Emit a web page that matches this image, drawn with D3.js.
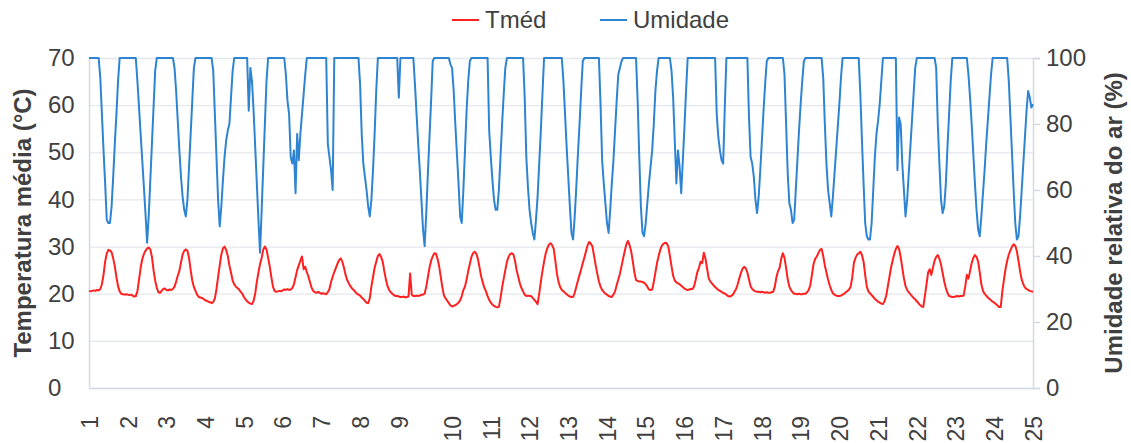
<!DOCTYPE html>
<html>
<head>
<meta charset="utf-8">
<script src="https://cdn.jsdelivr.net/npm/d3@7"></script>
<style>
  body { margin: 0; background: #ffffff; }
  svg { display: block; }
  text { font-family: "Liberation Sans", Arial, Helvetica, sans-serif; fill: #404040; }
</style>
</head>
<body>
<svg id="chart" width="1131" height="443"></svg>
<script>
// Day labels on the horizontal axis and the hourly sample where each day starts
const dayLabels = ["1","2","3","4","5","6","7","8","9","10","11","12","13","14","15","16","17","18","19","20","21","22","23","24","25"];
const dayTicks = [0,24,48,72,96,120,144,168,192,225,249,273,297,321,345,369,393,417,441,465,489,513,537,561,585];

// Axis tick values
const tempTicks = [0,10,20,30,40,50,60,70];
const humTicks = [0,20,40,60,80,100];

// Mean air temperature (°C), hourly
const tmed = [
20.6,20.5,20.6,20.7,20.6,20.8,20.7,21.0,
22.0,24.0,26.8,28.5,29.3,29.2,28.8,27.5,25.8,23.5,21.6,20.5,20.0,19.9,19.8,19.9,19.8,19.7,19.8,19.6,19.4,19.5,
20.5,23.0,25.5,27.3,28.4,29.1,29.6,29.8,29.4,27.8,25.0,22.8,21.3,20.3,20.2,20.6,21.0,21.1,20.8,20.7,20.9,20.8,21.0,
21.5,22.6,23.8,24.8,26.6,28.3,29.1,29.4,29.1,27.6,25.0,22.8,21.4,20.6,19.8,19.3,19.2,19.1,18.9,18.6,18.5,18.3,18.2,18.0,
18.2,19.0,21.0,23.5,26.0,28.3,29.6,30.0,29.3,28.0,26.0,24.5,22.8,22.0,21.5,21.2,20.9,20.4,20.0,19.3,18.8,18.4,18.1,17.9,17.8,
18.5,20.0,22.5,24.5,26.3,27.6,29.4,30.0,29.4,27.6,25.8,23.5,21.5,20.6,20.4,20.5,20.6,20.5,20.7,20.9,20.8,21.0,20.8,20.9,21.2,
22.0,23.5,25.0,26.0,27.0,27.9,25.2,25.7,24.6,23.6,22.4,21.2,20.6,20.3,20.2,20.4,20.2,20.0,20.1,20.0,19.9,
20.3,21.0,22.5,23.6,24.6,25.5,26.4,27.1,27.5,26.8,25.5,24.0,22.9,22.2,21.6,21.1,20.8,20.4,20.0,19.8,19.6,19.2,18.9,18.5,18.1,18.0,
19.0,21.5,23.5,25.5,26.8,28.0,28.4,27.8,26.8,24.8,23.0,21.6,20.8,20.3,20.0,19.7,19.5,19.5,19.4,19.3,19.3,19.4,19.2,19.3,
19.4,24.3,19.8,19.5,19.5,19.6,19.5,19.6,19.8,
19.8,20.0,21.5,23.5,25.5,27.0,27.9,28.6,28.5,27.4,25.8,23.5,21.3,19.6,19.0,18.5,18.0,17.5,17.3,17.4,17.6,17.8,18.1,18.6,19.5,20.8,21.5,
23.0,24.8,26.3,27.8,28.6,28.9,28.5,27.4,25.6,23.7,22.4,21.3,20.5,19.5,18.7,18.1,17.7,17.4,17.2,17.1,17.2,
19.0,21.3,23.2,25.0,26.8,27.8,28.4,28.6,28.3,27.0,25.0,23.6,22.2,21.2,20.5,19.8,19.5,19.6,19.5,19.5,19.1,18.7,18.3,17.8,
20.0,22.5,24.8,26.8,28.5,29.6,30.4,30.7,30.3,29.5,27.0,24.2,22.5,21.4,20.8,20.5,20.2,19.9,19.6,19.4,19.3,19.3,
20.2,21.5,22.8,24.0,25.2,26.5,27.7,29.0,30.3,31.0,30.6,30.0,28.0,26.0,24.2,22.6,21.5,20.8,20.4,20.0,19.8,19.5,19.4,19.3,
19.8,20.5,21.8,23.0,24.2,25.8,27.5,29.0,30.5,31.2,30.3,29.0,26.8,24.5,22.9,22.7,22.6,22.6,22.5,22.3,22.0,21.5,20.9,20.8,20.9,22.5,24.5,
26.5,28.0,29.3,30.2,30.6,30.8,30.7,30.0,28.0,25.8,23.8,22.8,22.4,22.2,22.0,21.7,21.4,21.1,20.9,20.8,20.9,21.0,21.0,
21.6,23.0,24.6,25.5,26.8,26.5,28.7,27.5,25.4,23.3,22.6,22.2,21.8,21.4,21.1,20.8,20.6,20.4,20.2,20.0,19.8,19.5,19.4,19.5,
19.8,20.4,21.0,22.0,23.3,24.4,25.3,25.7,25.4,24.5,23.0,21.6,21.0,20.7,20.5,20.4,20.4,20.3,20.4,20.3,20.2,20.3,20.2,20.2,20.3,20.4,
21.5,23.5,24.8,25.5,27.5,28.6,27.6,25.5,23.0,21.5,20.8,20.3,20.0,20.0,19.9,20.0,19.9,19.9,20.0,20.0,20.3,
20.8,21.8,24.0,26.3,27.4,27.9,28.6,29.3,29.5,28.0,26.0,24.5,23.0,21.8,20.8,20.1,19.8,19.6,19.5,19.5,19.6,19.8,20.0,20.3,20.6,20.9,
21.5,23.5,26.5,27.6,28.3,28.6,28.9,28.2,26.8,24.0,21.5,20.5,20.1,19.7,19.3,18.9,18.6,18.3,18.1,17.9,17.8,
18.4,19.5,21.5,23.5,25.5,27.0,28.4,29.5,30.1,29.5,27.8,25.5,23.3,21.6,20.8,20.3,19.9,19.5,19.1,18.8,18.4,18.0,17.6,17.3,17.2,
19.5,22.0,24.5,25.2,24.0,25.5,27.0,27.8,28.2,27.4,26.2,24.4,22.6,21.2,20.2,19.5,19.4,19.3,19.3,19.4,19.5,19.4,19.5,19.5,19.6,
21.5,24.0,23.2,24.8,26.5,27.6,28.2,27.8,26.8,24.5,22.0,20.6,20.0,19.6,19.2,18.9,18.6,18.3,18.1,17.8,17.5,17.2,17.2,
20.5,23.0,25.3,27.0,28.3,29.2,30.0,30.5,30.2,29.0,27.0,24.8,23.0,22.0,21.3,21.0,20.8,20.6,20.5,20.4
];

// Relative air humidity (%), hourly
const umidade = [
100,100,100,100,100,100,100,
94,83,72,62,51,50,50,55,64,74,83,93,
100,100,100,100,100,100,100,100,100,100,100,
93,85,77,69,61,53,44,52,63,74,85,96,
100,100,100,100,100,100,100,100,100,100,100,
97,90,81,72,64,58,54,52,57,67,77,87,97,
100,100,100,100,100,100,100,100,100,100,100,
96,83,70,57,49,55,63,70,75,78,80,88,96,
100,100,100,100,100,100,100,100,100,
84,97,93,84,73,62,51,41,54,67,80,93,
100,100,100,100,100,100,100,100,100,100,100,
95,87,83,70,68,72,59,77,69,77,83,89,95,
100,100,100,100,100,100,100,100,100,100,100,100,100,
74,70,66,60,
100,100,100,100,100,100,100,100,100,100,100,100,100,100,100,100,
92,77,68,64,60,55,52,57,66,77,90,
100,100,100,100,100,100,100,100,100,100,100,100,100,
88,
100,100,100,100,100,100,100,100,100,
92,83,74,66,57,48,43,53,65,76,87,99,
100,100,100,100,100,100,100,100,100,100,
98,97,90,80,71,62,52,50,60,72,84,93,99,
100,100,100,100,100,100,100,100,100,100,100,
78,70,63,57,54,54,60,70,80,89,97,
100,100,100,100,100,100,100,100,100,100,100,
88,70,61,54,50,47,45,51,58,68,78,89,
100,100,100,100,100,100,100,100,100,100,100,100,
93,83,73,64,55,47,45,52,61,71,80,90,99,
100,100,100,100,100,100,100,100,100,100,
86,69,62,56,50,47,54,62,69,78,87,95,97,99,
100,100,100,100,100,100,100,100,100,
87,70,55,47,46,50,56,62,67,72,80,90,96,
100,100,100,100,100,100,100,100,
96,88,75,62,72,67,59,69,79,90,
100,100,100,100,100,100,100,100,100,100,100,100,100,100,100,100,100,100,
83,76,72,69,68,85,
100,100,100,100,100,100,100,100,100,100,100,100,100,100,
82,70,68,64,57,53,58,66,75,84,92,99,
100,100,100,100,100,100,100,100,100,100,
95,80,65,56,54,50,51,60,69,78,86,93,99,
100,100,100,100,100,100,100,100,100,100,100,
94,80,68,60,56,52,58,65,72,79,86,94,
100,100,100,100,100,100,100,100,100,100,100,
89,75,62,50,46,45,45,50,60,70,77,81,86,93,
100,100,100,100,100,100,100,100,100,
66,82,80,68,60,52,57,65,73,81,89,97,
100,100,100,100,100,100,100,100,100,100,100,100,
97,80,68,57,53,55,62,73,83,93,
100,100,100,100,100,100,100,100,100,100,
95,88,80,71,62,54,48,46,52,59,66,74,81,88,95,
100,100,100,100,100,100,100,100,100,100,
93,82,71,60,50,45,46,52,60,68,76,84,90,88,85,86
];

const seriesNames = ["Tméd", "Umidade"];
const seriesColors = ["#ff2020", "#2e84d1"];

// Plot frame
const plot = { left: 89, right: 1033, top: 58, bottom: 388 };
const fontSize = 24;
const axisColor = "#d3dae3";
const gridColor = "#e4e7ec";

const svg = d3.select("#chart");

const x = d3.scaleLinear().domain([0, tmed.length - 1]).range([plot.left, plot.right]);
const yT = d3.scaleLinear().domain([0, 70]).range([plot.bottom, plot.top]);
const yU = d3.scaleLinear().domain([0, 100]).range([plot.bottom, plot.top]);

// Horizontal gridlines from the temperature axis
svg.append("g")
  .attr("transform", `translate(${plot.left},0)`)
  .call(d3.axisLeft(yT).tickValues(tempTicks).tickSize(-(plot.right - plot.left)).tickFormat(""))
  .call(g => g.select(".domain").remove())
  .call(g => g.selectAll("line").attr("stroke", gridColor).attr("stroke-width", 1.3));

// Left axis: line and left-aligned labels
const leftAxis = svg.append("g")
  .attr("transform", `translate(${plot.left},0)`)
  .call(d3.axisLeft(yT).tickValues(tempTicks).tickSize(0).tickPadding(0));
leftAxis.select(".domain").attr("stroke", axisColor).attr("stroke-width", 1.5);
leftAxis.selectAll(".tick text")
  .attr("x", 48 - plot.left)
  .attr("text-anchor", "start")
  .attr("fill", "#404040")
  .style("font-size", fontSize + "px")
  .style("font-family", "'Liberation Sans', Arial, sans-serif");

// Right axis: line, outward ticks and labels
const rightAxis = svg.append("g")
  .attr("transform", `translate(${plot.right},0)`)
  .call(d3.axisRight(yU).tickValues(humTicks).tickSize(7).tickPadding(6));
rightAxis.select(".domain").attr("stroke", axisColor).attr("stroke-width", 1.5);
rightAxis.selectAll(".tick line").attr("stroke", axisColor).attr("stroke-width", 1.5);
rightAxis.selectAll(".tick text")
  .attr("fill", "#404040")
  .style("font-size", fontSize + "px")
  .style("font-family", "'Liberation Sans', Arial, sans-serif");

// Bottom axis: line and rotated day labels
const bottomAxis = svg.append("g")
  .attr("transform", `translate(0,${plot.bottom})`)
  .call(d3.axisBottom(x).tickValues(dayTicks).tickSize(0).tickFormat((d, i) => dayLabels[i]));
bottomAxis.select(".domain").attr("stroke", axisColor).attr("stroke-width", 1.5);
bottomAxis.selectAll(".tick text")
  .attr("transform", "rotate(-90)")
  .attr("text-anchor", "end")
  .attr("x", -28)
  .attr("y", 0)
  .attr("dy", "0.36em")
  .attr("fill", "#404040")
  .style("font-size", "23px")
  .style("font-family", "'Liberation Sans', Arial, sans-serif");

// Series lines: temperature first, humidity drawn over it
const lineT = d3.line().x((d, i) => x(i)).y(d => yT(d));
const lineU = d3.line().x((d, i) => x(i)).y(d => yU(d));

svg.append("path")
  .datum(tmed)
  .attr("fill", "none")
  .attr("stroke", seriesColors[0])
  .attr("stroke-width", 2)
  .attr("stroke-linejoin", "round")
  .attr("d", lineT);

svg.append("path")
  .datum(umidade)
  .attr("fill", "none")
  .attr("stroke", seriesColors[1])
  .attr("stroke-width", 2)
  .attr("stroke-linejoin", "round")
  .attr("d", lineU);

// Axis titles
svg.append("text")
  .attr("transform", `translate(31,${(plot.top + plot.bottom) / 2}) rotate(-90)`)
  .attr("text-anchor", "middle")
  .attr("fill", "#262626")
  .style("font-size", fontSize + "px")
  .style("font-weight", "bold")
  .text("Temperatura média (°C)");

svg.append("text")
  .attr("transform", `translate(1122,${(plot.top + plot.bottom) / 2}) rotate(-90)`)
  .attr("text-anchor", "middle")
  .attr("fill", "#262626")
  .style("font-size", fontSize + "px")
  .style("font-weight", "bold")
  .text("Umidade relativa do ar (%)");

// Legend
const legendItems = [
  { name: seriesNames[0], color: seriesColors[0], x: 452 },
  { name: seriesNames[1], color: seriesColors[1], x: 600 }
];
const legend = svg.append("g").selectAll("g").data(legendItems).join("g")
  .attr("transform", d => `translate(${d.x},20)`);
legend.append("line")
  .attr("x1", 0).attr("x2", 27).attr("y1", 0).attr("y2", 0)
  .attr("stroke", d => d.color).attr("stroke-width", 2);
legend.append("text")
  .attr("x", 33).attr("y", 0).attr("dy", "0.35em")
  .attr("fill", "#404040")
  .style("font-size", fontSize + "px")
  .text(d => d.name);
</script>
</body>
</html>
